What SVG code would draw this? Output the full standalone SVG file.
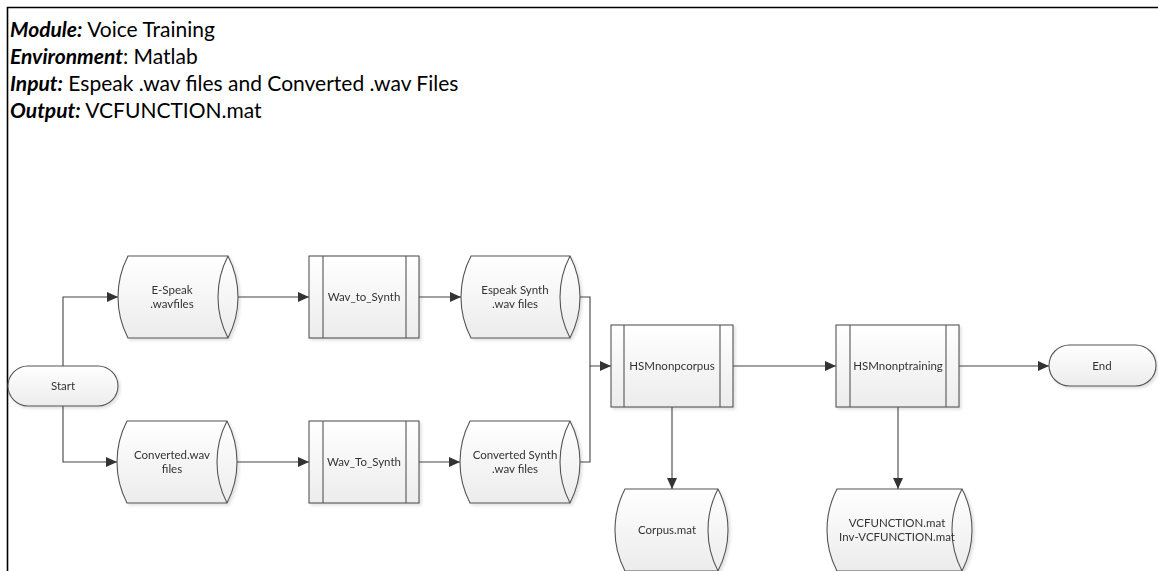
<svg xmlns="http://www.w3.org/2000/svg" width="1158" height="571" viewBox="0 0 1158 571">
<style>
.hdr{font-family:Lato,"Open Sans",sans-serif;font-size:21px;fill:#000}
.bi{font-weight:bold;font-style:italic}
.shape{fill:url(#g);stroke:#555;stroke-width:1.1}
.inner{fill:none;stroke:#555;stroke-width:1.1}
.lbl{font-family:Lato,"Open Sans",sans-serif;font-size:11.5px;fill:#333;text-anchor:middle}
.conn{fill:none;stroke:#444;stroke-width:1.1}
</style>
<defs>
<linearGradient id="g" x1="0" y1="0" x2="0" y2="1">
<stop offset="0" stop-color="#ffffff"/>
<stop offset="1" stop-color="#ececec"/>
</linearGradient>
<filter id="sh" x="-10%" y="-10%" width="130%" height="130%">
<feDropShadow dx="2" dy="2" stdDeviation="1.5" flood-color="#000" flood-opacity="0.12"/>
</filter>
<marker id="ah" markerWidth="12" markerHeight="10" refX="11" refY="5" orient="auto" markerUnits="userSpaceOnUse">
<path d="M0,0 L11,5 L0,10 z" fill="#333"/>
</marker>
</defs>
<rect width="1158" height="571" fill="#fff"/>
<path d="M7.5,571 L7.5,7.5 L1158,7.5" fill="none" stroke="#000" stroke-width="1.6"/>
<g id="header">
<text class="hdr" x="10" y="37"><tspan class="bi">Module:</tspan> Voice Training</text>
<text class="hdr" x="10" y="64"><tspan class="bi">Environment</tspan>: Matlab</text>
<text class="hdr" x="10" y="91"><tspan class="bi">Input:</tspan> Espeak .wav files and Converted .wav Files</text>
<text class="hdr" x="10" y="118"><tspan class="bi">Output:</tspan> VCFUNCTION.mat</text>
</g>
<g id="connectors">
<path class="conn" d="M63,366 L63,297 L118,297" marker-end="url(#ah)"/>
<path class="conn" d="M63,406 L63,462 L117,462" marker-end="url(#ah)"/>
<path class="conn" d="M238,297 L309,297" marker-end="url(#ah)"/>
<path class="conn" d="M419,297 L461,297" marker-end="url(#ah)"/>
<path class="conn" d="M227,462 L309,462" marker-end="url(#ah)"/>
<path class="conn" d="M419,462 L460,462" marker-end="url(#ah)"/>
<path class="conn" d="M569,297 L590,297 L590,366 L611,366" marker-end="url(#ah)"/>
<path class="conn" d="M570,462 L590,462 L590,366"/>
<path class="conn" d="M733,366 L836,366" marker-end="url(#ah)"/>
<path class="conn" d="M959,366 L1049,366" marker-end="url(#ah)"/>
<path class="conn" d="M672,407 L672,489" marker-end="url(#ah)"/>
<path class="conn" d="M898,407 L898,489" marker-end="url(#ah)"/>
</g>
<g id="start" filter="url(#sh)">
<rect class="shape" x="8" y="366" width="110" height="40" rx="20" ry="20"/>
<text class="lbl" x="63" y="390">Start</text>
</g>
<g id="end" filter="url(#sh)">
<rect class="shape" x="1049" y="345" width="107" height="41" rx="20.5" ry="20.5"/>
<text class="lbl" x="1102" y="370">End</text>
</g>
<g id="espeak-wav" filter="url(#sh)">
<path class="shape" d="M128,256 L228,256 A89,89 0 0 1 228,338 L128,338 A89,89 0 0 1 128,256 Z"/>
<path class="inner" d="M228,256 A89,89 0 0 0 228,338"/>
<text class="lbl" x="172" y="294">E-Speak</text>
<text class="lbl" x="172" y="308">.wavfiles</text>
</g>
<g id="wav-to-synth-1" filter="url(#sh)">
<rect class="shape" x="309" y="256" width="110" height="82"/>
<path class="inner" d="M323,256 L323,338 M406,256 L406,338"/>
<text class="lbl" x="364" y="301">Wav_to_Synth</text>
</g>
<g id="espeak-synth" filter="url(#sh)">
<path class="shape" d="M471,256 L570,256 A89,89 0 0 1 570,338 L471,338 A89,89 0 0 1 471,256 Z"/>
<path class="inner" d="M570,256 A89,89 0 0 0 570,338"/>
<text class="lbl" x="515" y="294">Espeak Synth</text>
<text class="lbl" x="515" y="308">.wav files</text>
</g>
<g id="converted-wav" filter="url(#sh)">
<path class="shape" d="M127,421 L227,421 A89,89 0 0 1 227,503 L127,503 A89,89 0 0 1 127,421 Z"/>
<path class="inner" d="M227,421 A89,89 0 0 0 227,503"/>
<text class="lbl" x="172" y="459">Converted.wav</text>
<text class="lbl" x="172" y="473">files</text>
</g>
<g id="wav-to-synth-2" filter="url(#sh)">
<rect class="shape" x="309" y="421" width="110" height="82"/>
<path class="inner" d="M323,421 L323,503 M406,421 L406,503"/>
<text class="lbl" x="364" y="466">Wav_To_Synth</text>
</g>
<g id="converted-synth" filter="url(#sh)">
<path class="shape" d="M470,421 L570,421 A89,89 0 0 1 570,503 L470,503 A89,89 0 0 1 470,421 Z"/>
<path class="inner" d="M570,421 A89,89 0 0 0 570,503"/>
<text class="lbl" x="515" y="459">Converted Synth</text>
<text class="lbl" x="515" y="473">.wav files</text>
</g>
<g id="hsmnonpcorpus" filter="url(#sh)">
<rect class="shape" x="611" y="325" width="122" height="82"/>
<path class="inner" d="M624,325 L624,407 M720,325 L720,407"/>
<text class="lbl" x="672" y="370">HSMnonpcorpus</text>
</g>
<g id="hsmnonptraining" filter="url(#sh)">
<rect class="shape" x="836" y="325" width="123" height="82"/>
<path class="inner" d="M850,325 L850,407 M946,325 L946,407"/>
<text class="lbl" x="898" y="370">HSMnonptraining</text>
</g>
<g id="corpus-mat" filter="url(#sh)">
<path class="shape" d="M625,489 L718,489 A89,89 0 0 1 718,571 L625,571 A89,89 0 0 1 625,489 Z"/>
<path class="inner" d="M718,489 A89,89 0 0 0 718,571"/>
<text class="lbl" x="667" y="534">Corpus.mat</text>
</g>
<g id="vcfunction-mat" filter="url(#sh)">
<path class="shape" d="M837,489 L962,489 A89,89 0 0 1 962,571 L837,571 A89,89 0 0 1 837,489 Z"/>
<path class="inner" d="M962,489 A89,89 0 0 0 962,571"/>
<text class="lbl" x="897" y="527">VCFUNCTION.mat</text>
<text class="lbl" x="897" y="541">Inv-VCFUNCTION.mat</text>
</g>
</svg>
